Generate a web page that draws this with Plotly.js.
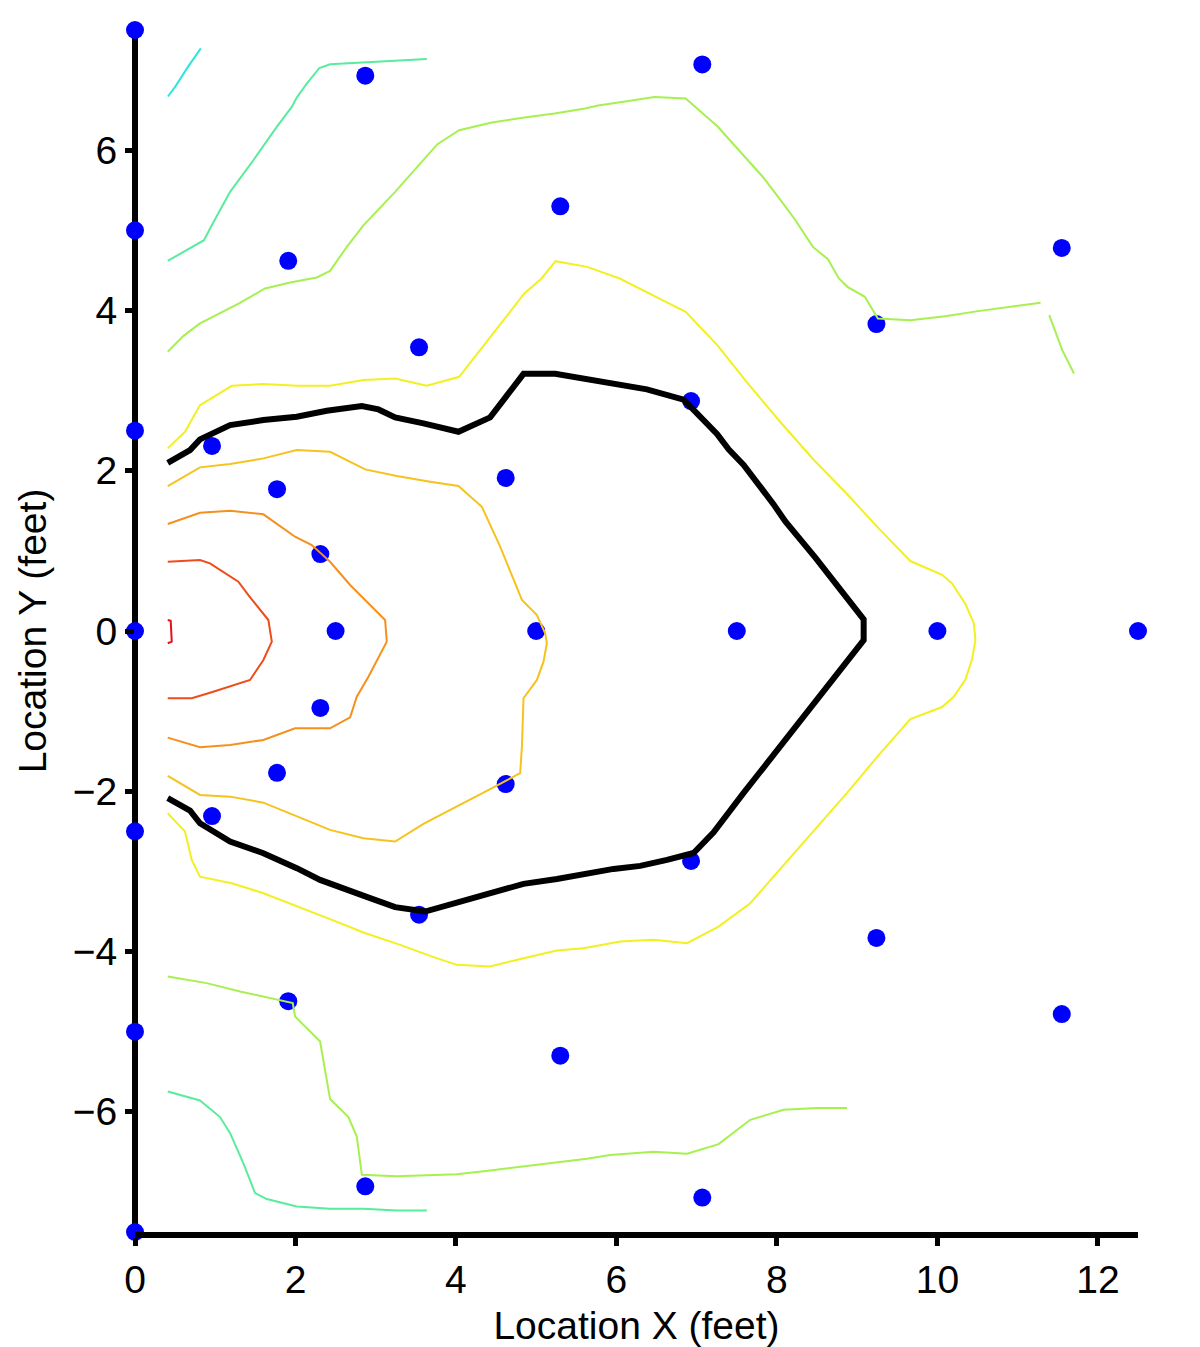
<!DOCTYPE html>
<html>
<head>
<meta charset="utf-8">
<script src="https://cdn.plot.ly/plotly-3.0.1.min.js"></script>
<style>
  html, body { margin: 0; padding: 0; background: #fff; }
  #chart { width: 1200px; height: 1347px; }
</style>
</head>
<body>
<div id="chart"></div>
<script>
// measurement locations (feet)
var dotX = [0, 0, 0, 0, 0, 0, 0,
  2.5, 5, 7.5, 10, 12.5,
  0.96, 1.77, 2.31, 0.96, 1.77, 2.31,
  1.91, 3.54, 4.62, 1.91, 3.54, 4.62,
  2.87, 5.30, 6.93, 2.87, 5.30, 6.93,
  7.07, 9.24, 7.07, 9.24,
  11.55, 11.55];
var dotY = [7.5, 5, 2.5, 0, -2.5, -5, -7.5,
  0, 0, 0, 0, 0,
  2.31, 1.77, 0.96, -2.31, -1.77, -0.96,
  4.62, 3.54, 1.91, -4.62, -3.54, -1.91,
  6.93, 5.30, 2.87, -6.93, -5.30, -2.87,
  7.07, 3.83, -7.07, -3.83,
  4.78, -4.78];

// contour lines
var cyanX = [0.41, 0.50, 0.66, 0.82];
var cyanY = [6.67, 6.79, 7.04, 7.27];

var tealTopX = [0.408, 0.860, 0.935, 1.185, 1.475, 1.621, 1.767, 1.954, 2.016, 2.141, 2.298, 2.431, 3.637];
var tealTopY = [4.619, 4.877, 5.023, 5.480, 5.875, 6.083, 6.290, 6.540, 6.657, 6.832, 7.026, 7.072, 7.139];

var tealBotX = [0.408, 0.810, 1.060, 1.185, 1.350, 1.496, 1.642, 2.016, 2.431, 2.847, 3.263, 3.637];
var tealBotY = [-5.747, -5.859, -6.066, -6.266, -6.640, -7.014, -7.089, -7.181, -7.210, -7.210, -7.231, -7.231];

var lgTopX = [0.408, 0.602, 0.810, 1.019, 1.309, 1.621, 1.933, 2.266, 2.431, 2.640, 2.847, 3.242, 3.512,
  3.769, 4.040, 4.446, 4.852, 5.229, 5.608, 5.771, 6.150, 6.474, 6.863, 7.258, 7.582, 7.825, 8.041,
  8.231, 8.448, 8.636, 8.772, 8.879, 9.096, 9.258, 9.663, 10.096, 10.529, 11.286];
var lgTopY = [3.484, 3.680, 3.838, 3.942, 4.095, 4.275, 4.350, 4.412, 4.494, 4.794, 5.063, 5.480, 5.791,
  6.075, 6.249, 6.345, 6.408, 6.458, 6.520, 6.557, 6.615, 6.665, 6.645, 6.299, 5.937, 5.666, 5.384,
  5.126, 4.793, 4.640, 4.399, 4.295, 4.170, 3.900, 3.879, 3.929, 3.995, 4.095];

var lgRightX = [11.394, 11.556, 11.702];
var lgRightY = [3.942, 3.504, 3.214];

var lgBotX = [0.408, 0.894, 1.309, 1.766, 1.966, 1.995, 2.307, 2.431, 2.660, 2.764, 2.827, 3.263, 4.011,
  4.426, 4.842, 5.258, 5.632, 5.923, 6.463, 6.879, 7.273, 7.668, 8.083, 8.500, 8.874];
var lgBotY = [-4.312, -4.394, -4.499, -4.594, -4.644, -4.811, -5.123, -5.841, -6.066, -6.308, -6.786, -6.804, -6.779,
  -6.732, -6.682, -6.632, -6.586, -6.540, -6.499, -6.524, -6.403, -6.100, -5.975, -5.954, -5.954];

var yellowX = [0.408, 0.623, 0.810, 1.206, 1.600, 2.016, 2.431, 2.847, 3.242, 3.637, 4.040, 4.852, 5.067,
  5.241, 5.636, 6.041, 6.474, 6.863, 7.257, 7.627, 8.042, 8.458, 8.874, 9.268, 9.663, 10.059, 10.183,
  10.349, 10.453, 10.474, 10.433, 10.349, 10.203, 10.059, 9.663, 9.268, 8.874, 8.458, 8.042, 7.668,
  7.273, 6.879, 6.463, 6.047, 5.590, 5.258, 4.842, 4.426, 4.011, 3.678, 3.304, 2.847, 2.431, 2.016,
  1.600, 1.206, 0.810, 0.707, 0.623, 0.408];
var yellowY = [2.279, 2.486, 2.819, 3.060, 3.081, 3.060, 3.060, 3.131, 3.152, 3.060, 3.172, 4.212, 4.399,
  4.615, 4.544, 4.399, 4.179, 3.983, 3.567, 3.102, 2.608, 2.137, 1.709, 1.280, 0.873, 0.701, 0.594,
  0.337, 0.101, -0.112, -0.349, -0.606, -0.821, -0.949, -1.099, -1.549, -2.021, -2.492, -2.964, -3.397,
  -3.688, -3.896, -3.854, -3.875, -3.958, -3.988, -4.083, -4.187, -4.166, -4.054, -3.917, -3.763, -3.596, -3.430,
  -3.272, -3.147, -3.065, -2.856, -2.503, -2.274];

var blackX = [0.408, 0.686, 0.810, 1.185, 1.600, 2.016, 2.390, 2.827, 3.034, 3.242, 3.595, 4.031, 4.426,
  4.842, 5.237, 5.964, 6.380, 6.837, 7.253, 7.398, 7.585, 7.959, 8.105, 8.479, 8.791, 9.081, 9.081,
  8.791, 8.479, 8.105, 7.959, 7.585, 7.211, 6.961, 6.630, 6.297, 5.964, 5.632, 5.258, 4.842, 4.426,
  4.011, 3.616, 3.242, 2.930, 2.640, 2.307, 2.016, 1.600, 1.185, 0.810, 0.686, 0.408];
var blackY = [2.099, 2.258, 2.391, 2.570, 2.632, 2.673, 2.748, 2.807, 2.765, 2.666, 2.591, 2.486, 2.666,
  3.209, 3.209, 3.088, 3.016, 2.888, 2.459, 2.266, 2.073, 1.580, 1.366, 0.916, 0.509, 0.145, -0.114,
  -0.478, -0.885, -1.356, -1.550, -2.021, -2.513, -2.770, -2.856, -2.931, -2.969, -3.031, -3.094, -3.156, -3.264,
  -3.389, -3.501, -3.446, -3.334, -3.231, -3.106, -2.960, -2.773, -2.628, -2.399, -2.242, -2.087];

var goldX = [0.408, 0.810, 1.185, 1.600, 2.016, 2.431, 2.868, 3.263, 3.678, 4.031, 4.323, 4.551, 4.822,
  5.009, 5.112, 5.133, 5.091, 5.009, 4.842, 4.822, 4.800, 4.635, 4.343, 3.928, 3.595, 3.242, 2.847,
  2.431, 2.016, 1.600, 1.185, 0.810, 0.408];
var goldY = [1.809, 2.042, 2.083, 2.154, 2.258, 2.237, 2.017, 1.933, 1.862, 1.809, 1.550, 1.052, 0.387,
  0.200, -0.029, -0.153, -0.383, -0.611, -0.839, -1.443, -1.775, -1.859, -2.017, -2.233, -2.407, -2.628, -2.586,
  -2.482, -2.316, -2.142, -2.067, -2.046, -1.809];

var orangeX = [0.408, 0.810, 1.185, 1.600, 1.995, 2.203, 2.431, 2.681, 3.117, 3.138, 2.909, 2.764, 2.681,
  2.431, 1.995, 1.600, 1.185, 0.810, 0.408];
var orangeY = [1.335, 1.476, 1.501, 1.456, 1.176, 1.073, 0.864, 0.574, 0.137, -0.133, -0.570, -0.820, -1.077,
  -1.214, -1.214, -1.360, -1.422, -1.451, -1.331];

var redOrX = [0.408, 0.810, 0.935, 1.185, 1.288, 1.413, 1.662, 1.705, 1.600, 1.434, 1.185, 0.935, 0.707, 0.408];
var redOrY = [0.864, 0.886, 0.844, 0.677, 0.615, 0.449, 0.137, -0.133, -0.362, -0.611, -0.695, -0.770, -0.840, -0.840];

var redX = [0.408, 0.445, 0.458, 0.408];
var redY = [0.137, 0.128, -0.133, -0.153];

function contour(x, y, color, width) {
  return {
    x: x, y: y,
    type: 'scatter',
    mode: 'lines',
    line: {color: color, width: width},
    hoverinfo: 'skip'
  };
}

var dots = {
  x: dotX, y: dotY,
  type: 'scatter',
  mode: 'markers',
  marker: {color: '#0000ff', size: 18},
  cliponaxis: false
};

var data = [
  dots,
  contour(cyanX, cyanY, '#30e6dc', 2),
  contour(tealTopX, tealTopY, '#58ec9c', 2),
  contour(tealBotX, tealBotY, '#58ec9c', 2),
  contour(lgTopX, lgTopY, '#a6f050', 2),
  contour(lgRightX, lgRightY, '#a6f050', 2),
  contour(lgBotX, lgBotY, '#a6f050', 2),
  contour(yellowX, yellowY, '#f2f020', 2),
  contour(goldX, goldY, '#f6c21e', 2),
  contour(orangeX, orangeY, '#f5901e', 2),
  contour(redOrX, redOrY, '#ee4c1c', 2),
  contour(redX, redY, '#e4101c', 2),
  contour(blackX, blackY, '#000000', 6)
];

var font = {family: 'Liberation Sans, Arial, sans-serif', size: 39, color: '#000'};

var layout = {
  width: 1200,
  height: 1347,
  margin: {l: 135, r: 62, t: 30, b: 115},
  paper_bgcolor: '#fff',
  plot_bgcolor: '#fff',
  showlegend: false,
  hovermode: false,
  font: font,
  xaxis: {
    range: [0, 12.5],
    dtick: 2,
    tick0: 0,
    showgrid: false,
    zeroline: true,
    zerolinecolor: '#000',
    zerolinewidth: 6,
    showline: true,
    linecolor: '#000',
    linewidth: 6,
    ticks: 'outside',
    ticklen: 8,
    tickwidth: 5,
    tickcolor: '#000',
    tickfont: font,
    title: {text: 'Location X (feet)', font: font, standoff: 14}
  },
  yaxis: {
    range: [-7.5, 7.5],
    dtick: 2,
    tick0: 0,
    showgrid: false,
    zeroline: false,
    showline: false,
    ticks: 'outside',
    ticklen: 9,
    tickwidth: 5,
    tickcolor: '#000',
    tickfont: font,
    title: {text: 'Location Y (feet)', font: font, standoff: 14}
  }
};

Plotly.newPlot('chart', data, layout, {displayModeBar: false, staticPlot: true});
</script>
</body>
</html>
